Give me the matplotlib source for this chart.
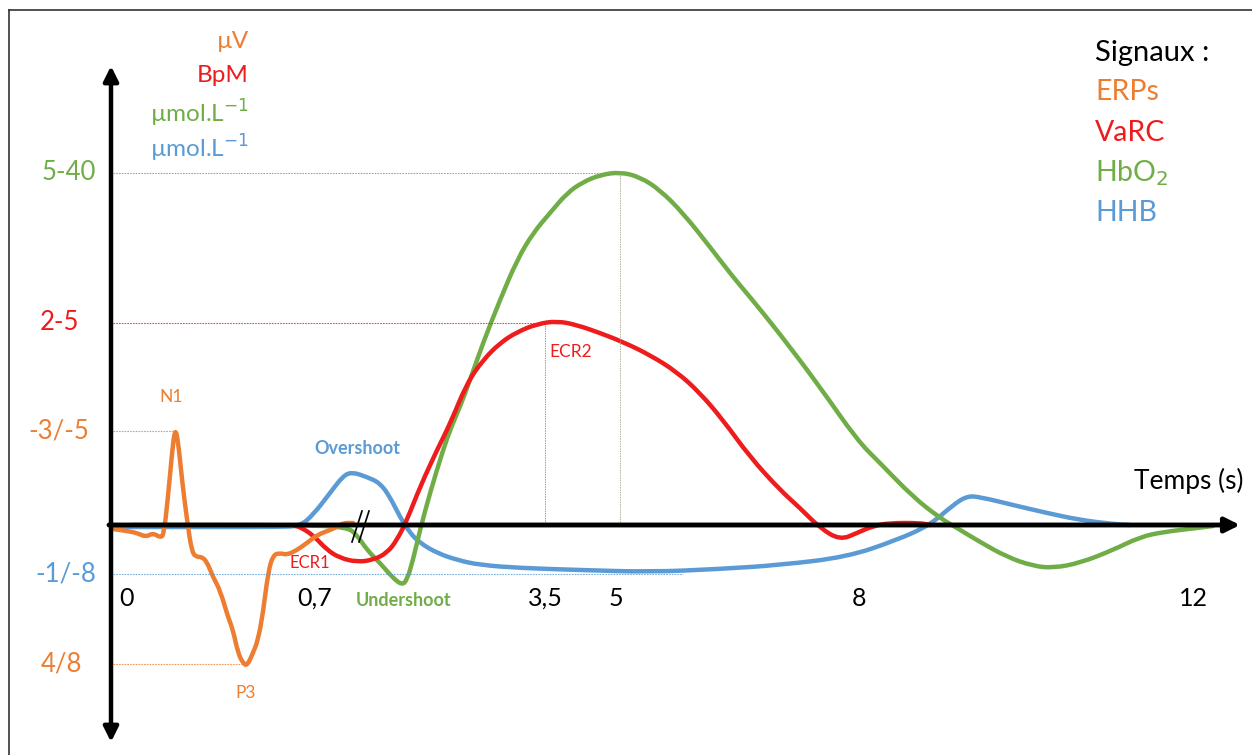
import matplotlib.pyplot as plt
from matplotlib.lines import Line2D
from matplotlib.path import Path
from matplotlib.patches import PathPatch

# --- Colours (Office palette) ---
C_ERP = "#ED7D31"
C_VARC = "#EE1C1C"
C_HBO2 = "#70AD47"
C_HHB = "#5B9BD5"

plt.rcParams['font.family'] = ['Lato', 'DejaVu Sans']

# --- Schematic curves (positions in drawing units, y grows downwards) ---
erp_x = [113, 127, 137, 146, 153, 161, 164, 168, 172, 175, 178, 182, 187, 192, 197, 202,
         207, 213, 220, 228, 233, 238, 243, 247, 253, 258, 263, 268, 273, 280, 287, 297,
         307, 317, 330, 337, 343, 353]
erp_y = [529, 531, 533, 537, 533, 538, 533, 497, 453, 428, 440, 480, 520, 553, 557, 557,
         562, 577, 590, 617, 630, 653, 663, 666, 653, 640, 613, 573, 555, 553, 555, 550,
         543, 535, 530, 527, 523, 523]

varc_x = [295, 300, 313, 327, 340, 357, 373, 387, 397, 407, 420, 437, 450, 467, 483, 500,
          517, 537, 557, 577, 600, 623, 650, 677, 700, 723, 750, 780, 800, 820, 840, 857,
          873, 890, 920, 930]
varc_y = [526, 527, 535, 550, 558, 562, 560, 553, 540, 520, 487, 450, 424, 383, 360, 343,
          332, 324, 321, 325, 333, 342, 355, 372, 393, 420, 457, 490, 508, 528, 540, 533,
          526, 523, 523, 525]

hbo2_x = [133, 300, 347, 357, 367, 380, 393, 402, 407, 413, 420, 430, 443, 452, 460, 470,
          483, 500, 517, 533, 550, 567, 583, 600, 620, 640, 660, 683, 710, 733, 750, 780,
          820, 857, 880, 913, 940, 957, 980, 1007, 1033, 1053, 1080, 1113, 1140, 1163,
          1197, 1213]
hbo2_y = [525, 525, 527, 535, 550, 563, 578, 585, 580, 560, 530, 493, 450, 425, 407, 380,
          343, 300, 260, 233, 213, 193, 182, 175, 172, 177, 190, 213, 247, 277, 297, 334,
          387, 440, 463, 497, 518, 528, 542, 557, 566, 568, 563, 550, 537, 532, 528, 526]

hhb_x = [113, 200, 280, 300, 313, 330, 343, 352, 367, 380, 390, 400, 410, 420, 437, 457,
         480, 520, 580, 650, 720, 780, 847, 897, 930, 953, 967, 980, 1013, 1047, 1080,
         1113, 1130]
hhb_y = [527, 527, 527, 526, 515, 493, 476, 472, 477, 483, 497, 517, 533, 543, 553, 560,
         565, 568, 570, 572, 569, 565, 557, 540, 525, 505, 496, 497, 505, 513, 520, 524, 525]

# guide lines
y_levels = ["5-40", "2-5", "-3/-5", "-1/-8", "4/8"]
y_level_pos = [173, 323, 431, 574, 664]
y_level_end = [620, 545, 175, 683, 246]
y_level_left = [42, 40, 28, 35, 41]
y_level_col = [C_HBO2, C_VARC, C_ERP, C_HHB, C_ERP]

time_labels = ["0", "0,7", "3,5", "5", "8", "12"]
time_pos = [127, 315, 545, 616, 859, 1193]

units = ["µV", "BpM", "µmol.L$^{-1}$", "µmol.L$^{-1}$"]
unit_y = [42, 75, 113, 148]
unit_col = [C_ERP, C_VARC, C_HBO2, C_HHB]

signals = ["ERPs", "VaRC", "HbO$_2$", "HHB"]
signal_y = [92, 133, 173, 213]
signal_col = [C_ERP, C_VARC, C_HBO2, C_HHB]


def smooth_curve(ax, xs, ys, color, lw=3.2):
    # quadratic bezier through the midpoints, the read points act as control points
    pts = list(zip(xs, ys))
    verts = [pts[0]]
    codes = [Path.MOVETO]
    mid = lambda a, b: ((a[0] + b[0]) / 2, (a[1] + b[1]) / 2)
    verts.append(mid(pts[0], pts[1]))
    codes.append(Path.LINETO)
    for i in range(1, len(pts) - 1):
        verts += [pts[i], mid(pts[i], pts[i + 1])]
        codes += [Path.CURVE3, Path.CURVE3]
    verts.append(pts[-1])
    codes.append(Path.LINETO)
    ax.add_patch(PathPatch(Path(verts, codes), fill=False, edgecolor=color, lw=lw,
                           capstyle='round', joinstyle='round'))


fig = plt.figure(figsize=(12.52, 7.55), dpi=100)
ax = fig.add_axes([0, 0, 1, 1])
ax.set_xlim(0, 1252)
ax.set_ylim(755, 0)
ax.axis('off')

# frame
ax.add_line(Line2D([9, 9], [10, 760], color='#333333', lw=1.2))
ax.add_line(Line2D([9, 1252], [10, 10], color='#333333', lw=1.2))

# dotted guide lines
for yl, xe, c in zip(y_level_pos, y_level_end, y_level_col):
    ax.plot([113, xe], [yl, yl], color=c, lw=0.8, ls=(0, (1.5, 1)), alpha=0.8)
ax.plot([620, 620], [173, 525], color='#A0A080', lw=0.7, ls=(0, (1.5, 1)), alpha=0.8)
ax.plot([545, 545], [323, 525], color=C_VARC, lw=0.7, ls=(0, (1.5, 1)), alpha=0.6)

# curves
smooth_curve(ax, hhb_x, hhb_y, C_HHB)
smooth_curve(ax, hbo2_x, hbo2_y, C_HBO2)
smooth_curve(ax, varc_x, varc_y, C_VARC)
smooth_curve(ax, erp_x, erp_y, C_ERP)

# axes arrows
ax.annotate('', xy=(111, 66), xytext=(111, 742),
            arrowprops=dict(arrowstyle='<|-|>', lw=3.2, color='black',
                            mutation_scale=22, shrinkA=0, shrinkB=0))
ax.annotate('', xy=(1240, 525), xytext=(109, 525),
            arrowprops=dict(arrowstyle='-|>', lw=3.5, color='black',
                            mutation_scale=22, shrinkA=0, shrinkB=0))

# break mark
ax.plot([352, 362], [542, 511], color='black', lw=1.2)
ax.plot([359, 369], [542, 511], color='black', lw=1.2)

# y level labels
for lab, yl, xl, c in zip(y_levels, y_level_pos, y_level_left, y_level_col):
    ax.text(xl, yl, lab, color=c, fontsize=18.5, ha='left', va='center')

# time labels
for lab, xp in zip(time_labels, time_pos):
    ax.text(xp, 598, lab, color='black', fontsize=18, ha='center', va='center')
ax.text(1243, 481, "Temps (s)", fontsize=19, ha='right', va='center')

# units
for lab, yu, c in zip(units, unit_y, unit_col):
    ax.text(249, yu, lab, color=c, fontsize=17.5, ha='right', va='center')

# signals legend
ax.text(1095, 53, "Signaux :", fontsize=21, ha='left', va='center')
for lab, ys, c in zip(signals, signal_y, signal_col):
    ax.text(1095, ys, lab, color=c, fontsize=20.5, ha='left', va='center')

# annotations
ax.text(171, 397, "N1", color=C_ERP, fontsize=12.5, ha='center', va='center')
ax.text(246, 693, "P3", color=C_ERP, fontsize=12.5, ha='center', va='center')
ax.text(357, 448, "Overshoot", color=C_HHB, fontsize=13, fontweight='bold',
        ha='center', va='center')
ax.text(404, 601, "Undershoot", color=C_HBO2, fontsize=13, fontweight='bold',
        ha='center', va='center')
ax.text(310, 563, "ECR1", color=C_VARC, fontsize=12, ha='center', va='center')
ax.text(571, 352, "ECR2", color=C_VARC, fontsize=12.5, ha='center', va='center')

fig.savefig("out.png", dpi=100)
